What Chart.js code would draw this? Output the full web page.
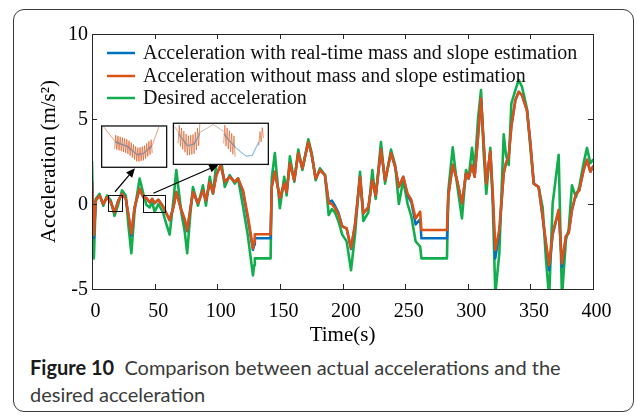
<!DOCTYPE html>
<html><head><meta charset="utf-8">
<script src="https://cdn.jsdelivr.net/npm/chart.js@4"></script>
<style>
html,body{margin:0;padding:0;background:#fff;}
#wrap{position:relative;width:637px;height:417px;overflow:hidden;background:#fff;}
#frame{position:absolute;left:13px;top:9px;width:621px;height:403px;border:1px solid #3c3c3c;border-radius:11px;box-sizing:border-box;}
#c{position:absolute;left:0;top:0;}
#cap{position:absolute;left:30px;top:354px;font-family:Lato,'Open Sans',sans-serif;font-size:20px;line-height:27px;color:#3a3a3a;white-space:nowrap;}
#cap b{color:#1a1a1a;font-weight:700;}
</style></head>
<body>
<div id="wrap">
<div id="frame"></div>
<canvas id="c" width="637" height="350"></canvas>
<div id="cap"><b>Figure 10</b>&nbsp; Comparison between actual accelerations and the<br>desired acceleration</div>
</div>
<script>
// ---- data ----
const seriesLabels = [
  'Acceleration with real-time mass and slope estimation',
  'Acceleration without mass and slope estimation',
  'Desired acceleration'
];
const xTickValues = [0, 50, 100, 150, 200, 250, 300, 350, 400];
const yTickValues = [-5, 0, 5, 10];

const time = [0,1.5,3,6,9,12,15,18,21,24,27,29,31.4,34,38,41,43.4,46,48,50,53,56.7,59,62,65,67.3,71.3,74,76,78.5,80.6,84.6,88.6,91,94,96.6,99.3,102.7,106,110,114,116.6,120.6,124.5,128.5,129.5,130,142.6,143.5,146,150,153.5,155.4,158,161.5,164.7,168,172.7,175.4,178.6,182,186,189,191.5,194,196.7,199.8,203.3,206.8,210,214,216.6,220.6,223.8,226.5,230.7,234,238.7,242,245,248.5,252,255,258.4,262,263,283.4,284.5,288,291.4,295.4,298.6,300.7,303.4,305.5,308.2,310.6,312.7,314.8,318,320,322,325.2,328.7,330.5,332.7,334.8,338,340.7,343.3,347.3,350,352.7,356.6,359.8,362.5,365,367.8,372.6,375.2,378.4,380.6,383.2,386.4,389,392.5,395.2,397.9,400];

const withoutEst = [1.3,-1.8,0.2,0.5,0.0,0.4,0.1,-0.5,0.2,0.6,0.3,-0.6,-1.75,-0.2,0.9,0.4,0.35,0.1,0.3,0.05,0.25,-0.15,-0.5,-0.95,-0.2,0.7,-0.35,-0.9,-1.55,-0.3,0.7,0.05,0.8,0.2,1.3,0.65,1.7,2.3,1.3,1.6,1.3,1.5,0.8,-0.75,-2.6,-2.2,-1.78,-1.78,1.0,1.9,0.35,1.2,0.7,2.4,1.4,3.0,2.1,3.65,2.9,1.5,2.0,1.7,0.05,0.0,-0.25,-0.6,-1.33,-1.43,-2.6,-1.2,1.6,-0.55,-0.2,1.4,0.5,3.2,1.4,3.0,2.2,1.0,1.6,0.6,0.24,-0.85,-0.45,-1.53,-1.53,0.5,2.3,1.4,0.04,1.8,1.5,2.3,1.6,3.96,6.2,3.6,1.2,3.1,0.6,-2.7,-1.5,1.8,2.4,2.8,4.55,6.1,6.6,6.4,5.5,3.6,1.2,1.0,-0.75,-2.3,-3.6,-1.7,-0.35,-3.5,-1.9,-1.7,-0.35,0.6,0.8,2.0,2.6,1.9,2.2];

const desired = [2.5,-3.2,0.3,0.6,-0.1,0.5,0.2,-0.7,0.0,0.8,0.5,-1.2,-2.9,-0.4,1.5,0.6,-0.05,-0.2,0.1,-0.45,0.0,-0.5,-1.1,-1.8,0.2,2.0,-0.5,-1.6,-2.9,-0.6,1.0,-0.1,1.1,-0.1,1.6,0.6,2.4,2.8,1.0,1.7,1.2,1.5,-0.15,-1.9,-4.2,-3.6,-3.2,-3.2,1.5,3.0,-0.25,1.6,0.5,2.8,1.3,3.2,2.0,3.8,3.0,1.4,2.1,1.7,-0.65,-0.3,-0.5,-1.0,-1.8,-2.2,-3.9,-1.8,1.9,-1.0,-0.5,2.0,0.3,3.65,1.2,3.2,2.3,0.0,1.4,0.0,-0.75,-2.2,-2.5,-3.2,-3.2,0.8,3.33,1.2,-0.85,2.0,1.5,3.3,2.0,5.0,6.7,3.0,0.6,3.3,0.0,-5.3,-2.9,4.1,2.9,2.3,5.9,6.7,7.3,6.9,5.6,3.3,1.2,1.0,-0.2,-3.3,-5.5,0.04,2.9,-5.5,-2.1,-1.5,1.1,0.4,1.0,2.4,3.3,2.4,2.6];

const withEst = [1.3,-2.0,0.2,0.5,0.0,0.4,0.1,-0.5,0.2,0.6,0.3,-0.6,-1.85,-0.2,0.9,0.4,0.35,0.1,0.3,0.05,0.25,-0.15,-0.5,-0.95,-0.2,0.7,-0.35,-0.95,-1.6,-0.3,0.7,0.05,0.8,0.2,1.3,0.65,1.7,2.3,1.3,1.6,1.3,1.5,0.7,-0.9,-2.7,-2.4,-2.02,-2.02,1.0,1.9,0.35,1.2,0.7,2.4,1.4,3.0,2.1,3.65,2.9,1.5,2.0,1.7,0.1,0.2,-0.1,-0.5,-1.3,-1.45,-2.65,-1.2,1.6,-0.55,-0.2,1.4,0.5,3.2,1.4,3.0,2.2,1.0,1.6,0.5,0.1,-1.2,-0.9,-2.02,-2.02,0.5,2.3,1.4,0.04,1.8,1.5,2.3,1.6,3.96,6.2,3.6,1.2,3.1,0.4,-3.2,-1.7,1.8,2.4,2.8,4.55,6.1,6.6,6.4,5.5,3.6,1.2,1.0,-0.8,-2.4,-3.9,-1.8,-0.4,-3.7,-1.9,-1.7,-0.35,0.6,0.8,2.0,2.6,1.9,2.2];

// annotation regions (data units)
const zoomBoxes = [{t0:13, t1:24, a0:-0.4, a1:0.55}, {t0:40.7, t1:58, a0:-0.45, a1:0.53}];
const insetBoxes = [{t0:7.7, t1:59.6, a0:2.16, a1:4.59}, {t0:65, t1:140.8, a0:2.33, a1:4.75}];
const arrows = [{from:[18.4,0.72], to:[34.3,2.1]}, {from:[49,0.63], to:[100.8,2.3]}];

const SERIF = "'Liberation Serif','Times New Roman',serif";
const colors = ['#0072BD', '#D95319', '#12AE4E'];

function pts(vals){ return time.map((t,i)=>({x:t, y:vals[i]})); }

function drawZig(ctx, X, Y, path, amp, step){
  const u0 = path[0][0], u1 = path[path.length-1][0];
  function cv(u){
    for (let k=0;k<path.length-1;k++){
      const a=path[k], b=path[k+1];
      if (u>=a[0] && u<=b[0]) return a[1] + (b[1]-a[1])*(u-a[0])/(b[0]-a[0]);
    }
    return path[path.length-1][1];
  }
  ctx.beginPath();
  let s = 1;
  for (let u=u0; u<=u1+1e-9; u+=step){
    const v = cv(u) + s*amp;
    if (u===u0) ctx.moveTo(X(u),Y(v)); else ctx.lineTo(X(u),Y(v));
    s = -s;
  }
  ctx.stroke();
}
function drawPoly(ctx, X, Y, p){
  ctx.beginPath();
  p.forEach((q,i)=>{ if(i===0) ctx.moveTo(X(q[0]),Y(q[1])); else ctx.lineTo(X(q[0]),Y(q[1])); });
  ctx.stroke();
}

const decor = {
  id:'decor',
  afterDatasetsDraw(chart){
    const {ctx, chartArea:ca, scales:{x, y}} = chart;
    ctx.save();
    ctx.strokeStyle = '#111'; ctx.lineWidth = 1;
    zoomBoxes.forEach(b=>{
      const l=x.getPixelForValue(b.t0), r=x.getPixelForValue(b.t1), t=y.getPixelForValue(b.a1), bo=y.getPixelForValue(b.a0);
      ctx.strokeRect(Math.round(l)+0.5, Math.round(t)+0.5, Math.round(r-l), Math.round(bo-t));
    });
    insetBoxes.forEach((b,idx)=>{
      const l=x.getPixelForValue(b.t0), r=x.getPixelForValue(b.t1), t=y.getPixelForValue(b.a1), bo=y.getPixelForValue(b.a0);
      const w=r-l, h=bo-t;
      ctx.fillStyle='#fff'; ctx.fillRect(l,t,w,h);
      const X=u=>l+u*w, Y=v=>t+v*h;
      ctx.save();
      ctx.beginPath(); ctx.rect(l,t,w,h); ctx.clip();
      ctx.lineWidth = 1;
      if (idx===0){
        ctx.strokeStyle='rgba(217,83,25,0.55)';
        drawPoly(ctx,X,Y,[[0.03,0.02],[0.2,0.36]]);
        drawPoly(ctx,X,Y,[[0.78,0.46],[0.88,0.02]]);
        ctx.strokeStyle='rgba(217,83,25,0.65)';
        drawZig(ctx,X,Y,[[0.2,0.38],[0.4,0.5],[0.55,0.7],[0.65,0.66],[0.72,0.55],[0.78,0.48]],0.17,0.017);
        ctx.strokeStyle='rgba(0,114,189,0.45)'; ctx.lineWidth=1.2;
        drawPoly(ctx,X,Y,[[0.2,0.38],[0.4,0.5],[0.55,0.7],[0.65,0.66],[0.72,0.55],[0.78,0.48]]);
      } else {
        ctx.strokeStyle='rgba(217,83,25,0.45)';
        drawPoly(ctx,X,Y,[[0.01,0.08],[0.08,0.3]]);
        ctx.strokeStyle='rgba(160,110,100,0.5)';
        drawPoly(ctx,X,Y,[[0.26,0.25],[0.42,0.03],[0.53,0.2]]);
        ctx.strokeStyle='rgba(217,83,25,0.6)';
        drawZig(ctx,X,Y,[[0.05,0.25],[0.15,0.55],[0.22,0.5],[0.28,0.25]],0.24,0.012);
        drawZig(ctx,X,Y,[[0.53,0.25],[0.6,0.45],[0.66,0.6]],0.24,0.012);
        drawZig(ctx,X,Y,[[0.9,0.4],[0.95,0.2]],0.15,0.012);
        ctx.strokeStyle='rgba(0,114,189,0.45)'; ctx.lineWidth=1.2;
        drawPoly(ctx,X,Y,[[0.05,0.25],[0.15,0.55],[0.22,0.5],[0.28,0.25]]);
        drawPoly(ctx,X,Y,[[0.53,0.25],[0.6,0.45],[0.66,0.6],[0.72,0.72],[0.77,0.8],[0.83,0.78],[0.9,0.45]]);
      }
      ctx.restore();
      ctx.strokeStyle='#111'; ctx.lineWidth=1.3;
      ctx.strokeRect(l,t,w,h);
    });
    ctx.strokeStyle='#000'; ctx.fillStyle='#000'; ctx.lineWidth=1.2;
    arrows.forEach(a=>{
      const x0=x.getPixelForValue(a.from[0]), y0=y.getPixelForValue(a.from[1]);
      const x1=x.getPixelForValue(a.to[0]), y1=y.getPixelForValue(a.to[1]);
      const ang=Math.atan2(y1-y0,x1-x0), L=9, W=4;
      const bx=x1-L*Math.cos(ang), by=y1-L*Math.sin(ang);
      ctx.beginPath(); ctx.moveTo(x0,y0); ctx.lineTo(bx,by); ctx.stroke();
      ctx.beginPath(); ctx.moveTo(x1,y1);
      ctx.lineTo(bx+W*Math.sin(ang), by-W*Math.cos(ang));
      ctx.lineTo(bx-W*Math.sin(ang), by+W*Math.cos(ang));
      ctx.closePath(); ctx.fill();
    });
    ctx.restore();
  },
  afterDraw(chart){
    const {ctx, chartArea:ca, scales:{x, y}} = chart;
    ctx.save();
    ctx.strokeStyle='#262626'; ctx.lineWidth=1;
    ctx.strokeRect(Math.round(ca.left)+0.5, Math.round(ca.top)+0.5, Math.round(ca.right-ca.left), Math.round(ca.bottom-ca.top));
    ctx.beginPath();
    xTickValues.forEach(v=>{
      const px=Math.round(x.getPixelForValue(v))+0.5;
      ctx.moveTo(px, ca.bottom); ctx.lineTo(px, ca.bottom-5);
      ctx.moveTo(px, ca.top); ctx.lineTo(px, ca.top+5);
    });
    yTickValues.forEach(v=>{
      const py=Math.round(y.getPixelForValue(v))+0.5;
      ctx.moveTo(ca.left, py); ctx.lineTo(ca.left+5, py);
      ctx.moveTo(ca.right, py); ctx.lineTo(ca.right-5, py);
    });
    ctx.stroke();
    const rows=[53,76,98];
    ctx.font = "20px " + SERIF; ctx.textBaseline='middle'; ctx.fillStyle='#111';
    chart.data.datasets.forEach((d,i)=>{
      ctx.strokeStyle=d.borderColor; ctx.lineWidth=2.5;
      ctx.beginPath(); ctx.moveTo(107, rows[i]); ctx.lineTo(135, rows[i]); ctx.stroke();
      ctx.fillText(d.label, 143, rows[i]+1);
    });
    ctx.restore();
  }
};

new Chart(document.getElementById('c'), {
  type:'line',
  data:{datasets:[
    {label:seriesLabels[0], data:pts(withEst), borderColor:colors[0], borderWidth:2.5, order:1},
    {label:seriesLabels[1], data:pts(withoutEst), borderColor:colors[1], borderWidth:2.6, order:0},
    {label:seriesLabels[2], data:pts(desired), borderColor:colors[2], borderWidth:2.6, order:2}
  ]},
  options:{
    responsive:false, animation:false, devicePixelRatio:1,
    elements:{point:{radius:0}, line:{tension:0, borderJoinStyle:'round', borderCapStyle:'round'}},
    layout:{padding:{top:34, right:44, left:0, bottom:0}},
    plugins:{legend:{display:false}, tooltip:{enabled:false}},
    scales:{
      x:{type:'linear', min:0, max:400,
        grid:{display:false, drawTicks:false}, border:{display:false},
        afterBuildTicks:s=>{ s.ticks = xTickValues.map(v=>({value:v})); },
        afterFit:s=>{ s.height = 61; },
        ticks:{font:{family:SERIF,size:20}, color:'#000', padding:11, labelOffset:3.5, maxRotation:0, autoSkip:false},
        title:{display:true, text:'Time(s)', font:{family:SERIF,size:21}, color:'#000', padding:{top:0,bottom:2}}
      },
      y:{min:-5, max:10,
        grid:{display:false, drawTicks:false}, border:{display:false},
        afterBuildTicks:s=>{ s.ticks = yTickValues.map(v=>({value:v})); },
        afterFit:s=>{ s.width = 92; },
        ticks:{font:{family:SERIF,size:20}, color:'#000', padding:4, labelOffset:1, autoSkip:false},
        title:{display:true, text:'Acceleration (m/s\u00B2)', font:{family:SERIF,size:21}, color:'#000', padding:{top:37,bottom:0}}
      }
    }
  },
  plugins:[decor]
});
</script>
</body></html>
